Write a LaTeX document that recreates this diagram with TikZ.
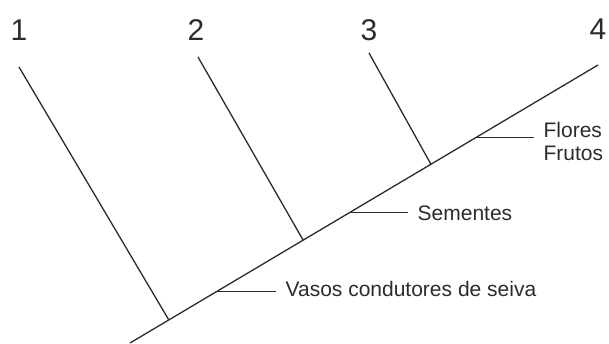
\documentclass[tikz,border=0pt]{standalone}
\usepackage{fontspec}
\setmainfont{Liberation Sans}
\usetikzlibrary{calc}
\definecolor{inkgray}{HTML}{2B2B2B}
\tikzset{every picture/.style={x=1pt,y=-1pt,line width=1.3pt}}
\tikzset{branch/.style={draw=inkgray,line cap=butt}}
\tikzset{num/.style={text=inkgray,inner sep=0pt,font=\fontsize{30}{30}\selectfont}}
\tikzset{lbl/.style={text=inkgray,anchor=west,inner xsep=9pt,inner ysep=0pt,
	align=left,font=\fontsize{21}{23}\selectfont}}

\begin{document}
\begin{tikzpicture}
		\useasboundingbox (0,0) rectangle (609,343);
		% main stem
		\coordinate (root) at (130,343);
		\coordinate (tip) at (598,65);
		\draw[branch] (root) -- (tip);
		\coordinate (j1) at ($(root)!0.083!(tip)$);
		\coordinate (j2) at ($(root)!0.370!(tip)$);
		\coordinate (j3) at ($(root)!0.643!(tip)$);
		\coordinate (t1) at ($(root)!0.186!(tip)$);
		\coordinate (t2) at ($(root)!0.470!(tip)$);
		\coordinate (t3) at ($(root)!0.739!(tip)$);
		% side branches
		\node[num] (n1) at (19,30) {1};
		\node[num] (n2) at (196,30) {2};
		\node[num] (n3) at (369,30) {3};
		\node[num] (n4) at (598,29) {4};
		\coordinate (b1) at (19,67);
		\coordinate (b2) at (198,57);
		\coordinate (b3) at (369,53);
		\draw[branch] (b1) -- (j1);
		\draw[branch] (b2) -- (j2);
		\draw[branch] (b3) -- (j3);
		% characters
		\node[lbl] (vasos) at (276,289) {Vasos condutores de seiva};
		\node[lbl] (sem) at (408,213) {Sementes};
		\node[lbl] (flo) at (534,141.5) {Flores\\Frutos};
		\draw[branch] (t1) -- (t1 -| vasos.west);
		\draw[branch] (t2) -- (t2 -| sem.west);
		\draw[branch] (t3) -- (t3 -| flo.west);
	\end{tikzpicture}
\end{document}
